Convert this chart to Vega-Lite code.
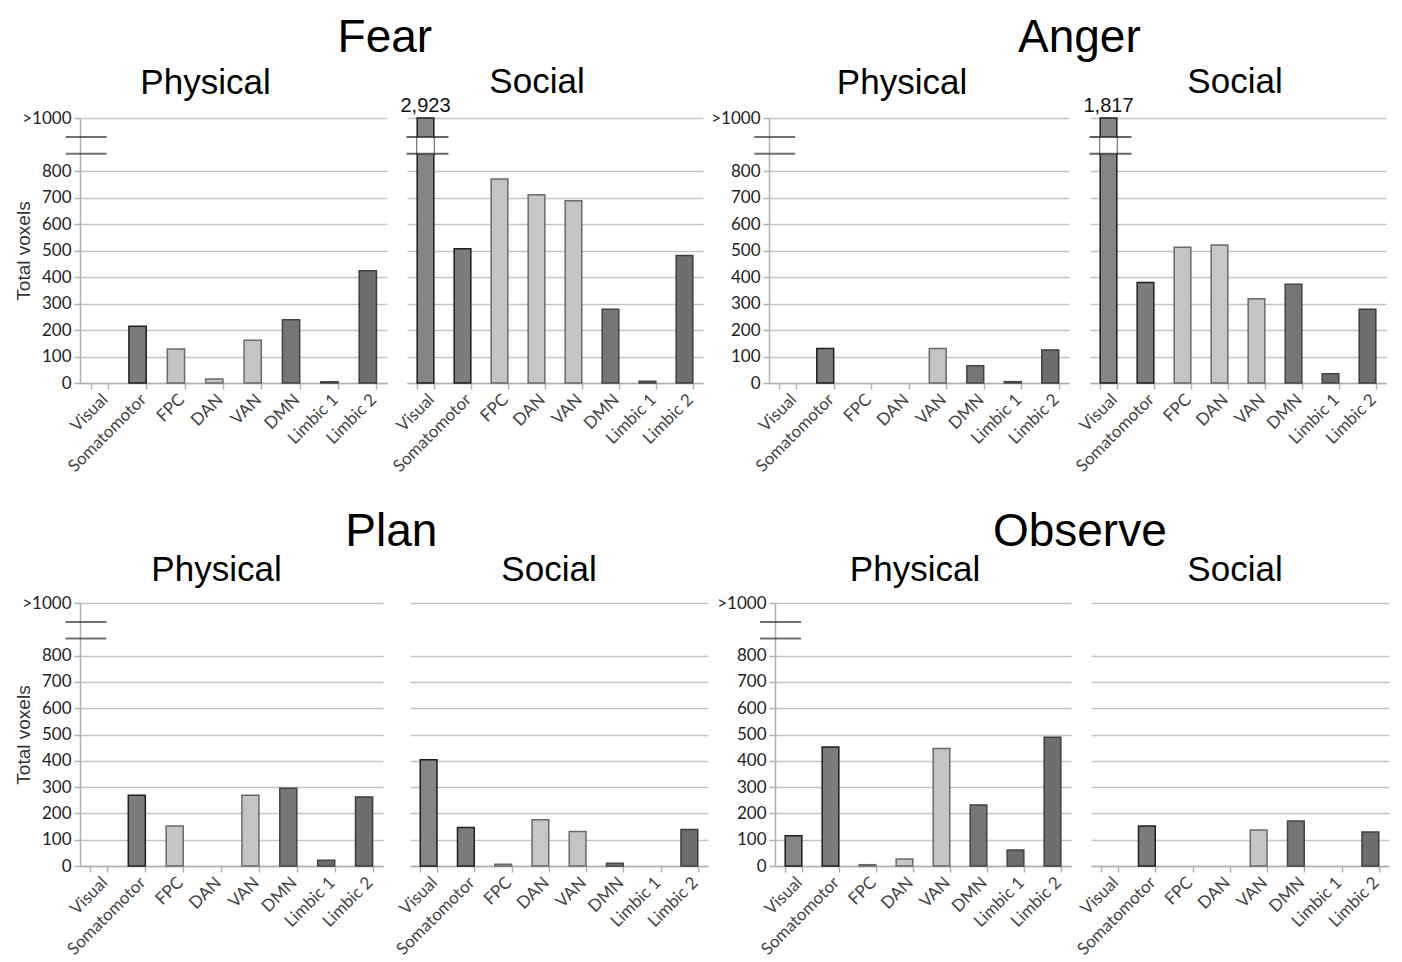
{
  "$schema": "https://vega.github.io/schema/vega-lite/v6.json",
  "background": "white",
  "padding": {"left": 14, "top": 15, "right": 5, "bottom": 0},
  "datasets": {
    "voxels": [
      {"emotion": "Fear", "context": "Physical", "network": "Visual", "voxels": 0},
      {"emotion": "Fear", "context": "Physical", "network": "Somatomotor", "voxels": 214},
      {"emotion": "Fear", "context": "Physical", "network": "FPC", "voxels": 128},
      {"emotion": "Fear", "context": "Physical", "network": "DAN", "voxels": 15},
      {"emotion": "Fear", "context": "Physical", "network": "VAN", "voxels": 161},
      {"emotion": "Fear", "context": "Physical", "network": "DMN", "voxels": 239},
      {"emotion": "Fear", "context": "Physical", "network": "Limbic 1", "voxels": 5},
      {"emotion": "Fear", "context": "Physical", "network": "Limbic 2", "voxels": 424},
      {"emotion": "Fear", "context": "Social", "network": "Visual", "voxels": 2923},
      {"emotion": "Fear", "context": "Social", "network": "Somatomotor", "voxels": 507},
      {"emotion": "Fear", "context": "Social", "network": "FPC", "voxels": 770},
      {"emotion": "Fear", "context": "Social", "network": "DAN", "voxels": 710},
      {"emotion": "Fear", "context": "Social", "network": "VAN", "voxels": 688},
      {"emotion": "Fear", "context": "Social", "network": "DMN", "voxels": 278},
      {"emotion": "Fear", "context": "Social", "network": "Limbic 1", "voxels": 7},
      {"emotion": "Fear", "context": "Social", "network": "Limbic 2", "voxels": 481},
      {"emotion": "Anger", "context": "Physical", "network": "Visual", "voxels": 0},
      {"emotion": "Anger", "context": "Physical", "network": "Somatomotor", "voxels": 130},
      {"emotion": "Anger", "context": "Physical", "network": "FPC", "voxels": 0},
      {"emotion": "Anger", "context": "Physical", "network": "DAN", "voxels": 0},
      {"emotion": "Anger", "context": "Physical", "network": "VAN", "voxels": 130},
      {"emotion": "Anger", "context": "Physical", "network": "DMN", "voxels": 65},
      {"emotion": "Anger", "context": "Physical", "network": "Limbic 1", "voxels": 5},
      {"emotion": "Anger", "context": "Physical", "network": "Limbic 2", "voxels": 125},
      {"emotion": "Anger", "context": "Social", "network": "Visual", "voxels": 1817},
      {"emotion": "Anger", "context": "Social", "network": "Somatomotor", "voxels": 379},
      {"emotion": "Anger", "context": "Social", "network": "FPC", "voxels": 512},
      {"emotion": "Anger", "context": "Social", "network": "DAN", "voxels": 521},
      {"emotion": "Anger", "context": "Social", "network": "VAN", "voxels": 318},
      {"emotion": "Anger", "context": "Social", "network": "DMN", "voxels": 373},
      {"emotion": "Anger", "context": "Social", "network": "Limbic 1", "voxels": 35},
      {"emotion": "Anger", "context": "Social", "network": "Limbic 2", "voxels": 278},
      {"emotion": "Plan", "context": "Physical", "network": "Visual", "voxels": 0},
      {"emotion": "Plan", "context": "Physical", "network": "Somatomotor", "voxels": 269},
      {"emotion": "Plan", "context": "Physical", "network": "FPC", "voxels": 152},
      {"emotion": "Plan", "context": "Physical", "network": "DAN", "voxels": 0},
      {"emotion": "Plan", "context": "Physical", "network": "VAN", "voxels": 269},
      {"emotion": "Plan", "context": "Physical", "network": "DMN", "voxels": 296},
      {"emotion": "Plan", "context": "Physical", "network": "Limbic 1", "voxels": 22},
      {"emotion": "Plan", "context": "Physical", "network": "Limbic 2", "voxels": 262},
      {"emotion": "Plan", "context": "Social", "network": "Visual", "voxels": 404},
      {"emotion": "Plan", "context": "Social", "network": "Somatomotor", "voxels": 146},
      {"emotion": "Plan", "context": "Social", "network": "FPC", "voxels": 7},
      {"emotion": "Plan", "context": "Social", "network": "DAN", "voxels": 176},
      {"emotion": "Plan", "context": "Social", "network": "VAN", "voxels": 131},
      {"emotion": "Plan", "context": "Social", "network": "DMN", "voxels": 10},
      {"emotion": "Plan", "context": "Social", "network": "Limbic 1", "voxels": 0},
      {"emotion": "Plan", "context": "Social", "network": "Limbic 2", "voxels": 139},
      {"emotion": "Observe", "context": "Physical", "network": "Visual", "voxels": 115},
      {"emotion": "Observe", "context": "Physical", "network": "Somatomotor", "voxels": 452},
      {"emotion": "Observe", "context": "Physical", "network": "FPC", "voxels": 5},
      {"emotion": "Observe", "context": "Physical", "network": "DAN", "voxels": 27},
      {"emotion": "Observe", "context": "Physical", "network": "VAN", "voxels": 447},
      {"emotion": "Observe", "context": "Physical", "network": "DMN", "voxels": 232},
      {"emotion": "Observe", "context": "Physical", "network": "Limbic 1", "voxels": 61},
      {"emotion": "Observe", "context": "Physical", "network": "Limbic 2", "voxels": 490},
      {"emotion": "Observe", "context": "Social", "network": "Visual", "voxels": 0},
      {"emotion": "Observe", "context": "Social", "network": "Somatomotor", "voxels": 152},
      {"emotion": "Observe", "context": "Social", "network": "FPC", "voxels": 0},
      {"emotion": "Observe", "context": "Social", "network": "DAN", "voxels": 0},
      {"emotion": "Observe", "context": "Social", "network": "VAN", "voxels": 137},
      {"emotion": "Observe", "context": "Social", "network": "DMN", "voxels": 171},
      {"emotion": "Observe", "context": "Social", "network": "Limbic 1", "voxels": 0},
      {"emotion": "Observe", "context": "Social", "network": "Limbic 2", "voxels": 129}
    ]
  },
  "data": {"name": "voxels"},
  "spacing": 34,
  "vconcat": [
    {
      "spacing": 7,
      "hconcat": [
        {
          "title": {"text": "Fear", "fontSize": 46, "anchor": "middle", "dx": 26, "offset": 3},
          "bounds": "flush",
          "spacing": 20,
          "hconcat": [
            {
              "width": 307, "height": 265,
              "title": {"text": "Physical", "fontSize": 35, "offset": 8, "frame": "group", "dx": -28},
              "transform": [{"filter": "datum.emotion == 'Fear' && datum.context == 'Physical'"}],
              "layer": [
                {
                  "transform": [{"filter": "datum.voxels > 0"}],
                  "mark": {"type": "bar", "strokeWidth": 1.5},
                  "encoding": {
                    "x": {"field": "network", "type": "nominal", "scale": {"domain": ["Visual", "Somatomotor", "FPC", "DAN", "VAN", "DMN", "Limbic 1", "Limbic 2"], "paddingInner": 0.55, "paddingOuter": 0.275},
                      "axis": {"title": null, "labelAngle": -45, "tickBand": "extent", "labelFontSize": 17, "labelColor": "#444", "tickSize": 6, "labelPadding": 2}},
                    "y": {"field": "voxels", "type": "quantitative", "scale": {"domain": [0, 1000], "clamp": true, "nice": false},
                      "axis": {"values": [0, 100, 200, 300, 400, 500, 600, 700, 800, 1000], "labelOverlap": false, "labelExpr": "datum.value == 1000 ? '>1000' : datum.label", "title": "Total voxels", "titleFontSize": 19, "titleFontWeight": "normal", "titleColor": "#333", "titlePadding": -12, "labelFontSize": 17, "labelColor": "#222", "tickSize": 6, "labelPadding": 3}},
                    "fill": {"field": "network", "type": "nominal", "legend": null,
                      "scale": {"domain": ["Visual", "Somatomotor", "FPC", "DAN", "VAN", "DMN", "Limbic 1", "Limbic 2"], "range": ["#858585", "#7c7c7c", "#c4c4c4", "#c6c6c6", "#c4c4c4", "#767676", "#6c6c6c", "#6e6e6e"]}},
                    "stroke": {"field": "network", "type": "nominal", "legend": null,
                      "scale": {"domain": ["Visual", "Somatomotor", "FPC", "DAN", "VAN", "DMN", "Limbic 1", "Limbic 2"], "range": ["#1e1e1e", "#1e1e1e", "#6a6a6a", "#6a6a6a", "#6a6a6a", "#444444", "#444444", "#3c3c3c"]}}
                  }
                },
                {
                  "transform": [{"filter": "datum.network == 'Visual'"}],
                  "mark": {"type": "tick", "color": "#333", "thickness": 2, "xOffset": -13},
                  "encoding": {"x": {"field": "network", "type": "nominal"},
                    "y": {"datum": 928, "type": "quantitative", "axis": {"values": [0, 100, 200, 300, 400, 500, 600, 700, 800, 1000], "labelOverlap": false, "labelExpr": "datum.value == 1000 ? '>1000' : datum.label", "title": "Total voxels", "titleFontSize": 19, "titleFontWeight": "normal", "titleColor": "#333", "titlePadding": -12, "labelFontSize": 17, "labelColor": "#222", "tickSize": 6, "labelPadding": 3}},
                    "size": {"value": 41}}
                },
                {
                  "transform": [{"filter": "datum.network == 'Visual'"}],
                  "mark": {"type": "tick", "color": "#333", "thickness": 2, "xOffset": -13},
                  "encoding": {"x": {"field": "network", "type": "nominal"},
                    "y": {"datum": 865, "type": "quantitative", "axis": {"values": [0, 100, 200, 300, 400, 500, 600, 700, 800, 1000], "labelOverlap": false, "labelExpr": "datum.value == 1000 ? '>1000' : datum.label", "title": "Total voxels", "titleFontSize": 19, "titleFontWeight": "normal", "titleColor": "#333", "titlePadding": -12, "labelFontSize": 17, "labelColor": "#222", "tickSize": 6, "labelPadding": 3}},
                    "size": {"value": 41}}
                }
              ]
            },
            {
              "width": 296, "height": 265,
              "title": {"text": "Social", "fontSize": 35, "offset": -4, "frame": "group", "dx": -18},
              "transform": [{"filter": "datum.emotion == 'Fear' && datum.context == 'Social'"}],
              "layer": [
                {
                  "transform": [{"filter": "datum.voxels > 0"}],
                  "mark": {"type": "bar", "strokeWidth": 1.5},
                  "encoding": {
                    "x": {"field": "network", "type": "nominal", "scale": {"domain": ["Visual", "Somatomotor", "FPC", "DAN", "VAN", "DMN", "Limbic 1", "Limbic 2"], "paddingInner": 0.55, "paddingOuter": 0.275},
                      "axis": {"title": null, "labelAngle": -45, "tickBand": "extent", "labelFontSize": 17, "labelColor": "#444", "tickSize": 6, "labelPadding": 2}},
                    "y": {"field": "voxels", "type": "quantitative", "scale": {"domain": [0, 1000], "clamp": true, "nice": false},
                      "axis": {"values": [0, 100, 200, 300, 400, 500, 600, 700, 800, 1000], "labelOverlap": false, "labelOpacity": 0, "tickOpacity": 0, "domainOpacity": 0, "title": null, "labelFontSize": 17, "tickSize": 6}},
                    "fill": {"field": "network", "type": "nominal", "legend": null,
                      "scale": {"domain": ["Visual", "Somatomotor", "FPC", "DAN", "VAN", "DMN", "Limbic 1", "Limbic 2"], "range": ["#858585", "#7c7c7c", "#c4c4c4", "#c6c6c6", "#c4c4c4", "#767676", "#6c6c6c", "#6e6e6e"]}},
                    "stroke": {"field": "network", "type": "nominal", "legend": null,
                      "scale": {"domain": ["Visual", "Somatomotor", "FPC", "DAN", "VAN", "DMN", "Limbic 1", "Limbic 2"], "range": ["#1e1e1e", "#1e1e1e", "#6a6a6a", "#6a6a6a", "#6a6a6a", "#444444", "#444444", "#3c3c3c"]}}
                  }
                },
                {
                  "transform": [{"filter": "datum.network == 'Visual' && datum.voxels > 1000"}],
                  "mark": {"type": "bar", "fill": "white", "stroke": null},
                  "encoding": {"x": {"field": "network", "type": "nominal"},
                    "y": {"datum": 865, "type": "quantitative", "axis": {"values": [0, 100, 200, 300, 400, 500, 600, 700, 800, 1000], "labelOverlap": false, "labelOpacity": 0, "tickOpacity": 0, "domainOpacity": 0, "title": null, "labelFontSize": 17, "tickSize": 6}},
                    "y2": {"datum": 928}}
                },
                {
                  "transform": [{"filter": "datum.network == 'Visual' && datum.voxels > 1000"}],
                  "mark": {"type": "tick", "color": "#222", "thickness": 2, "xOffset": 2},
                  "encoding": {"x": {"field": "network", "type": "nominal"},
                    "y": {"datum": 928, "type": "quantitative", "axis": {"values": [0, 100, 200, 300, 400, 500, 600, 700, 800, 1000], "labelOverlap": false, "labelOpacity": 0, "tickOpacity": 0, "domainOpacity": 0, "title": null, "labelFontSize": 17, "tickSize": 6}},
                    "size": {"value": 42}}
                },
                {
                  "transform": [{"filter": "datum.network == 'Visual' && datum.voxels > 1000"}],
                  "mark": {"type": "tick", "color": "#222", "thickness": 2, "xOffset": 2},
                  "encoding": {"x": {"field": "network", "type": "nominal"},
                    "y": {"datum": 865, "type": "quantitative", "axis": {"values": [0, 100, 200, 300, 400, 500, 600, 700, 800, 1000], "labelOverlap": false, "labelOpacity": 0, "tickOpacity": 0, "domainOpacity": 0, "title": null, "labelFontSize": 17, "tickSize": 6}},
                    "size": {"value": 42}}
                },
                {
                  "transform": [{"filter": "datum.voxels > 1000"}],
                  "mark": {"type": "text", "baseline": "bottom", "dy": -2, "fontSize": 20, "color": "#111"},
                  "encoding": {"x": {"field": "network", "type": "nominal"},
                    "y": {"field": "voxels", "type": "quantitative", "axis": {"values": [0, 100, 200, 300, 400, 500, 600, 700, 800, 1000], "labelOverlap": false, "labelOpacity": 0, "tickOpacity": 0, "domainOpacity": 0, "title": null, "labelFontSize": 17, "tickSize": 6}},
                    "text": {"field": "voxels", "type": "quantitative", "format": ","}}
                }
              ]
            }
          ]
        },
        {
          "title": {"text": "Anger", "fontSize": 46, "anchor": "middle", "dx": 31, "offset": 3},
          "bounds": "flush",
          "spacing": 21,
          "hconcat": [
            {
              "width": 300, "height": 265,
              "title": {"text": "Physical", "fontSize": 35, "offset": 8, "frame": "group", "dx": -17},
              "transform": [{"filter": "datum.emotion == 'Anger' && datum.context == 'Physical'"}],
              "layer": [
                {
                  "transform": [{"filter": "datum.voxels > 0"}],
                  "mark": {"type": "bar", "strokeWidth": 1.5},
                  "encoding": {
                    "x": {"field": "network", "type": "nominal", "scale": {"domain": ["Visual", "Somatomotor", "FPC", "DAN", "VAN", "DMN", "Limbic 1", "Limbic 2"], "paddingInner": 0.55, "paddingOuter": 0.275},
                      "axis": {"title": null, "labelAngle": -45, "tickBand": "extent", "labelFontSize": 17, "labelColor": "#444", "tickSize": 6, "labelPadding": 2}},
                    "y": {"field": "voxels", "type": "quantitative", "scale": {"domain": [0, 1000], "clamp": true, "nice": false},
                      "axis": {"values": [0, 100, 200, 300, 400, 500, 600, 700, 800, 1000], "labelOverlap": false, "labelExpr": "datum.value == 1000 ? '>1000' : datum.label", "title": null, "labelFontSize": 17, "labelColor": "#222", "tickSize": 6, "labelPadding": 3}},
                    "fill": {"field": "network", "type": "nominal", "legend": null,
                      "scale": {"domain": ["Visual", "Somatomotor", "FPC", "DAN", "VAN", "DMN", "Limbic 1", "Limbic 2"], "range": ["#858585", "#7c7c7c", "#c4c4c4", "#c6c6c6", "#c4c4c4", "#767676", "#6c6c6c", "#6e6e6e"]}},
                    "stroke": {"field": "network", "type": "nominal", "legend": null,
                      "scale": {"domain": ["Visual", "Somatomotor", "FPC", "DAN", "VAN", "DMN", "Limbic 1", "Limbic 2"], "range": ["#1e1e1e", "#1e1e1e", "#6a6a6a", "#6a6a6a", "#6a6a6a", "#444444", "#444444", "#3c3c3c"]}}
                  }
                },
                {
                  "transform": [{"filter": "datum.network == 'Visual'"}],
                  "mark": {"type": "tick", "color": "#333", "thickness": 2, "xOffset": -13},
                  "encoding": {"x": {"field": "network", "type": "nominal"},
                    "y": {"datum": 928, "type": "quantitative", "axis": {"values": [0, 100, 200, 300, 400, 500, 600, 700, 800, 1000], "labelOverlap": false, "labelExpr": "datum.value == 1000 ? '>1000' : datum.label", "title": null, "labelFontSize": 17, "labelColor": "#222", "tickSize": 6, "labelPadding": 3}},
                    "size": {"value": 41}}
                },
                {
                  "transform": [{"filter": "datum.network == 'Visual'"}],
                  "mark": {"type": "tick", "color": "#333", "thickness": 2, "xOffset": -13},
                  "encoding": {"x": {"field": "network", "type": "nominal"},
                    "y": {"datum": 865, "type": "quantitative", "axis": {"values": [0, 100, 200, 300, 400, 500, 600, 700, 800, 1000], "labelOverlap": false, "labelExpr": "datum.value == 1000 ? '>1000' : datum.label", "title": null, "labelFontSize": 17, "labelColor": "#222", "tickSize": 6, "labelPadding": 3}},
                    "size": {"value": 41}}
                }
              ]
            },
            {
              "width": 296, "height": 265,
              "title": {"text": "Social", "fontSize": 35, "offset": -4, "frame": "group", "dx": -3},
              "transform": [{"filter": "datum.emotion == 'Anger' && datum.context == 'Social'"}],
              "layer": [
                {
                  "transform": [{"filter": "datum.voxels > 0"}],
                  "mark": {"type": "bar", "strokeWidth": 1.5},
                  "encoding": {
                    "x": {"field": "network", "type": "nominal", "scale": {"domain": ["Visual", "Somatomotor", "FPC", "DAN", "VAN", "DMN", "Limbic 1", "Limbic 2"], "paddingInner": 0.55, "paddingOuter": 0.275},
                      "axis": {"title": null, "labelAngle": -45, "tickBand": "extent", "labelFontSize": 17, "labelColor": "#444", "tickSize": 6, "labelPadding": 2}},
                    "y": {"field": "voxels", "type": "quantitative", "scale": {"domain": [0, 1000], "clamp": true, "nice": false},
                      "axis": {"values": [0, 100, 200, 300, 400, 500, 600, 700, 800, 1000], "labelOverlap": false, "labelOpacity": 0, "tickOpacity": 0, "domainOpacity": 0, "title": null, "labelFontSize": 17, "tickSize": 6}},
                    "fill": {"field": "network", "type": "nominal", "legend": null,
                      "scale": {"domain": ["Visual", "Somatomotor", "FPC", "DAN", "VAN", "DMN", "Limbic 1", "Limbic 2"], "range": ["#858585", "#7c7c7c", "#c4c4c4", "#c6c6c6", "#c4c4c4", "#767676", "#6c6c6c", "#6e6e6e"]}},
                    "stroke": {"field": "network", "type": "nominal", "legend": null,
                      "scale": {"domain": ["Visual", "Somatomotor", "FPC", "DAN", "VAN", "DMN", "Limbic 1", "Limbic 2"], "range": ["#1e1e1e", "#1e1e1e", "#6a6a6a", "#6a6a6a", "#6a6a6a", "#444444", "#444444", "#3c3c3c"]}}
                  }
                },
                {
                  "transform": [{"filter": "datum.network == 'Visual' && datum.voxels > 1000"}],
                  "mark": {"type": "bar", "fill": "white", "stroke": null},
                  "encoding": {"x": {"field": "network", "type": "nominal"},
                    "y": {"datum": 865, "type": "quantitative", "axis": {"values": [0, 100, 200, 300, 400, 500, 600, 700, 800, 1000], "labelOverlap": false, "labelOpacity": 0, "tickOpacity": 0, "domainOpacity": 0, "title": null, "labelFontSize": 17, "tickSize": 6}},
                    "y2": {"datum": 928}}
                },
                {
                  "transform": [{"filter": "datum.network == 'Visual' && datum.voxels > 1000"}],
                  "mark": {"type": "tick", "color": "#222", "thickness": 2, "xOffset": 2},
                  "encoding": {"x": {"field": "network", "type": "nominal"},
                    "y": {"datum": 928, "type": "quantitative", "axis": {"values": [0, 100, 200, 300, 400, 500, 600, 700, 800, 1000], "labelOverlap": false, "labelOpacity": 0, "tickOpacity": 0, "domainOpacity": 0, "title": null, "labelFontSize": 17, "tickSize": 6}},
                    "size": {"value": 42}}
                },
                {
                  "transform": [{"filter": "datum.network == 'Visual' && datum.voxels > 1000"}],
                  "mark": {"type": "tick", "color": "#222", "thickness": 2, "xOffset": 2},
                  "encoding": {"x": {"field": "network", "type": "nominal"},
                    "y": {"datum": 865, "type": "quantitative", "axis": {"values": [0, 100, 200, 300, 400, 500, 600, 700, 800, 1000], "labelOverlap": false, "labelOpacity": 0, "tickOpacity": 0, "domainOpacity": 0, "title": null, "labelFontSize": 17, "tickSize": 6}},
                    "size": {"value": 42}}
                },
                {
                  "transform": [{"filter": "datum.voxels > 1000"}],
                  "mark": {"type": "text", "baseline": "bottom", "dy": -2, "fontSize": 20, "color": "#111"},
                  "encoding": {"x": {"field": "network", "type": "nominal"},
                    "y": {"field": "voxels", "type": "quantitative", "axis": {"values": [0, 100, 200, 300, 400, 500, 600, 700, 800, 1000], "labelOverlap": false, "labelOpacity": 0, "tickOpacity": 0, "domainOpacity": 0, "title": null, "labelFontSize": 17, "tickSize": 6}},
                    "text": {"field": "voxels", "type": "quantitative", "format": ","}}
                }
              ]
            }
          ]
        }
      ]
    },
    {
      "spacing": 8,
      "hconcat": [
        {
          "title": {"text": "Plan", "fontSize": 46, "anchor": "middle", "dx": 30, "offset": -3},
          "bounds": "flush",
          "spacing": 27,
          "hconcat": [
            {
              "width": 303, "height": 263,
              "title": {"text": "Physical", "fontSize": 35, "offset": 6, "frame": "group", "dx": -15},
              "transform": [{"filter": "datum.emotion == 'Plan' && datum.context == 'Physical'"}],
              "layer": [
                {
                  "transform": [{"filter": "datum.voxels > 0"}],
                  "mark": {"type": "bar", "strokeWidth": 1.5},
                  "encoding": {
                    "x": {"field": "network", "type": "nominal", "scale": {"domain": ["Visual", "Somatomotor", "FPC", "DAN", "VAN", "DMN", "Limbic 1", "Limbic 2"], "paddingInner": 0.55, "paddingOuter": 0.275},
                      "axis": {"title": null, "labelAngle": -45, "tickBand": "extent", "labelFontSize": 17, "labelColor": "#444", "tickSize": 6, "labelPadding": 2}},
                    "y": {"field": "voxels", "type": "quantitative", "scale": {"domain": [0, 1000], "clamp": true, "nice": false},
                      "axis": {"values": [0, 100, 200, 300, 400, 500, 600, 700, 800, 1000], "labelOverlap": false, "labelExpr": "datum.value == 1000 ? '>1000' : datum.label", "title": "Total voxels", "titleFontSize": 19, "titleFontWeight": "normal", "titleColor": "#333", "titlePadding": -12, "labelFontSize": 17, "labelColor": "#222", "tickSize": 6, "labelPadding": 3}},
                    "fill": {"field": "network", "type": "nominal", "legend": null,
                      "scale": {"domain": ["Visual", "Somatomotor", "FPC", "DAN", "VAN", "DMN", "Limbic 1", "Limbic 2"], "range": ["#858585", "#7c7c7c", "#c4c4c4", "#c6c6c6", "#c4c4c4", "#767676", "#6c6c6c", "#6e6e6e"]}},
                    "stroke": {"field": "network", "type": "nominal", "legend": null,
                      "scale": {"domain": ["Visual", "Somatomotor", "FPC", "DAN", "VAN", "DMN", "Limbic 1", "Limbic 2"], "range": ["#1e1e1e", "#1e1e1e", "#6a6a6a", "#6a6a6a", "#6a6a6a", "#444444", "#444444", "#3c3c3c"]}}
                  }
                },
                {
                  "transform": [{"filter": "datum.network == 'Visual'"}],
                  "mark": {"type": "tick", "color": "#333", "thickness": 2, "xOffset": -13},
                  "encoding": {"x": {"field": "network", "type": "nominal"},
                    "y": {"datum": 928, "type": "quantitative", "axis": {"values": [0, 100, 200, 300, 400, 500, 600, 700, 800, 1000], "labelOverlap": false, "labelExpr": "datum.value == 1000 ? '>1000' : datum.label", "title": "Total voxels", "titleFontSize": 19, "titleFontWeight": "normal", "titleColor": "#333", "titlePadding": -12, "labelFontSize": 17, "labelColor": "#222", "tickSize": 6, "labelPadding": 3}},
                    "size": {"value": 41}}
                },
                {
                  "transform": [{"filter": "datum.network == 'Visual'"}],
                  "mark": {"type": "tick", "color": "#333", "thickness": 2, "xOffset": -13},
                  "encoding": {"x": {"field": "network", "type": "nominal"},
                    "y": {"datum": 865, "type": "quantitative", "axis": {"values": [0, 100, 200, 300, 400, 500, 600, 700, 800, 1000], "labelOverlap": false, "labelExpr": "datum.value == 1000 ? '>1000' : datum.label", "title": "Total voxels", "titleFontSize": 19, "titleFontWeight": "normal", "titleColor": "#333", "titlePadding": -12, "labelFontSize": 17, "labelColor": "#222", "tickSize": 6, "labelPadding": 3}},
                    "size": {"value": 41}}
                }
              ]
            },
            {
              "width": 298, "height": 263,
              "title": {"text": "Social", "fontSize": 35, "offset": 6, "frame": "group", "dx": -10},
              "transform": [{"filter": "datum.emotion == 'Plan' && datum.context == 'Social'"}],
              "layer": [
                {
                  "transform": [{"filter": "datum.voxels > 0"}],
                  "mark": {"type": "bar", "strokeWidth": 1.5},
                  "encoding": {
                    "x": {"field": "network", "type": "nominal", "scale": {"domain": ["Visual", "Somatomotor", "FPC", "DAN", "VAN", "DMN", "Limbic 1", "Limbic 2"], "paddingInner": 0.55, "paddingOuter": 0.275},
                      "axis": {"title": null, "labelAngle": -45, "tickBand": "extent", "labelFontSize": 17, "labelColor": "#444", "tickSize": 6, "labelPadding": 2}},
                    "y": {"field": "voxels", "type": "quantitative", "scale": {"domain": [0, 1000], "clamp": true, "nice": false},
                      "axis": {"values": [0, 100, 200, 300, 400, 500, 600, 700, 800, 1000], "labelOverlap": false, "labelOpacity": 0, "tickOpacity": 0, "domainOpacity": 0, "title": null, "labelFontSize": 17, "tickSize": 6}},
                    "fill": {"field": "network", "type": "nominal", "legend": null,
                      "scale": {"domain": ["Visual", "Somatomotor", "FPC", "DAN", "VAN", "DMN", "Limbic 1", "Limbic 2"], "range": ["#858585", "#7c7c7c", "#c4c4c4", "#c6c6c6", "#c4c4c4", "#767676", "#6c6c6c", "#6e6e6e"]}},
                    "stroke": {"field": "network", "type": "nominal", "legend": null,
                      "scale": {"domain": ["Visual", "Somatomotor", "FPC", "DAN", "VAN", "DMN", "Limbic 1", "Limbic 2"], "range": ["#1e1e1e", "#1e1e1e", "#6a6a6a", "#6a6a6a", "#6a6a6a", "#444444", "#444444", "#3c3c3c"]}}
                  }
                }
              ]
            }
          ]
        },
        {
          "title": {"text": "Observe", "fontSize": 46, "anchor": "middle", "dx": 27, "offset": -3},
          "bounds": "flush",
          "spacing": 20,
          "hconcat": [
            {
              "width": 296, "height": 263,
              "title": {"text": "Physical", "fontSize": 35, "offset": 6, "frame": "group", "dx": -8},
              "transform": [{"filter": "datum.emotion == 'Observe' && datum.context == 'Physical'"}],
              "layer": [
                {
                  "transform": [{"filter": "datum.voxels > 0"}],
                  "mark": {"type": "bar", "strokeWidth": 1.5},
                  "encoding": {
                    "x": {"field": "network", "type": "nominal", "scale": {"domain": ["Visual", "Somatomotor", "FPC", "DAN", "VAN", "DMN", "Limbic 1", "Limbic 2"], "paddingInner": 0.55, "paddingOuter": 0.275},
                      "axis": {"title": null, "labelAngle": -45, "tickBand": "extent", "labelFontSize": 17, "labelColor": "#444", "tickSize": 6, "labelPadding": 2}},
                    "y": {"field": "voxels", "type": "quantitative", "scale": {"domain": [0, 1000], "clamp": true, "nice": false},
                      "axis": {"values": [0, 100, 200, 300, 400, 500, 600, 700, 800, 1000], "labelOverlap": false, "labelExpr": "datum.value == 1000 ? '>1000' : datum.label", "title": null, "labelFontSize": 17, "labelColor": "#222", "tickSize": 6, "labelPadding": 3}},
                    "fill": {"field": "network", "type": "nominal", "legend": null,
                      "scale": {"domain": ["Visual", "Somatomotor", "FPC", "DAN", "VAN", "DMN", "Limbic 1", "Limbic 2"], "range": ["#858585", "#7c7c7c", "#c4c4c4", "#c6c6c6", "#c4c4c4", "#767676", "#6c6c6c", "#6e6e6e"]}},
                    "stroke": {"field": "network", "type": "nominal", "legend": null,
                      "scale": {"domain": ["Visual", "Somatomotor", "FPC", "DAN", "VAN", "DMN", "Limbic 1", "Limbic 2"], "range": ["#1e1e1e", "#1e1e1e", "#6a6a6a", "#6a6a6a", "#6a6a6a", "#444444", "#444444", "#3c3c3c"]}}
                  }
                },
                {
                  "transform": [{"filter": "datum.network == 'Visual'"}],
                  "mark": {"type": "tick", "color": "#333", "thickness": 2, "xOffset": -13},
                  "encoding": {"x": {"field": "network", "type": "nominal"},
                    "y": {"datum": 928, "type": "quantitative", "axis": {"values": [0, 100, 200, 300, 400, 500, 600, 700, 800, 1000], "labelOverlap": false, "labelExpr": "datum.value == 1000 ? '>1000' : datum.label", "title": null, "labelFontSize": 17, "labelColor": "#222", "tickSize": 6, "labelPadding": 3}},
                    "size": {"value": 41}}
                },
                {
                  "transform": [{"filter": "datum.network == 'Visual'"}],
                  "mark": {"type": "tick", "color": "#333", "thickness": 2, "xOffset": -13},
                  "encoding": {"x": {"field": "network", "type": "nominal"},
                    "y": {"datum": 865, "type": "quantitative", "axis": {"values": [0, 100, 200, 300, 400, 500, 600, 700, 800, 1000], "labelOverlap": false, "labelExpr": "datum.value == 1000 ? '>1000' : datum.label", "title": null, "labelFontSize": 17, "labelColor": "#222", "tickSize": 6, "labelPadding": 3}},
                    "size": {"value": 41}}
                }
              ]
            },
            {
              "width": 298, "height": 263,
              "title": {"text": "Social", "fontSize": 35, "offset": 6, "frame": "group", "dx": -5},
              "transform": [{"filter": "datum.emotion == 'Observe' && datum.context == 'Social'"}],
              "layer": [
                {
                  "transform": [{"filter": "datum.voxels > 0"}],
                  "mark": {"type": "bar", "strokeWidth": 1.5},
                  "encoding": {
                    "x": {"field": "network", "type": "nominal", "scale": {"domain": ["Visual", "Somatomotor", "FPC", "DAN", "VAN", "DMN", "Limbic 1", "Limbic 2"], "paddingInner": 0.55, "paddingOuter": 0.275},
                      "axis": {"title": null, "labelAngle": -45, "tickBand": "extent", "labelFontSize": 17, "labelColor": "#444", "tickSize": 6, "labelPadding": 2}},
                    "y": {"field": "voxels", "type": "quantitative", "scale": {"domain": [0, 1000], "clamp": true, "nice": false},
                      "axis": {"values": [0, 100, 200, 300, 400, 500, 600, 700, 800, 1000], "labelOverlap": false, "labelOpacity": 0, "tickOpacity": 0, "domainOpacity": 0, "title": null, "labelFontSize": 17, "tickSize": 6}},
                    "fill": {"field": "network", "type": "nominal", "legend": null,
                      "scale": {"domain": ["Visual", "Somatomotor", "FPC", "DAN", "VAN", "DMN", "Limbic 1", "Limbic 2"], "range": ["#858585", "#7c7c7c", "#c4c4c4", "#c6c6c6", "#c4c4c4", "#767676", "#6c6c6c", "#6e6e6e"]}},
                    "stroke": {"field": "network", "type": "nominal", "legend": null,
                      "scale": {"domain": ["Visual", "Somatomotor", "FPC", "DAN", "VAN", "DMN", "Limbic 1", "Limbic 2"], "range": ["#1e1e1e", "#1e1e1e", "#6a6a6a", "#6a6a6a", "#6a6a6a", "#444444", "#444444", "#3c3c3c"]}}
                  }
                }
              ]
            }
          ]
        }
      ]
    }
  ],
  "config": {
    "font": "Liberation Sans",
    "view": {"stroke": null},
    "axis": {"labelFont": "Lato", "titleFont": "Liberation Sans", "gridColor": "#c4c4c4", "gridWidth": 1.5, "domainColor": "#b0b0b0", "tickColor": "#b0b0b0", "domainWidth": 1.5, "tickWidth": 1.5},
    "title": {"fontWeight": "normal", "color": "#000", "font": "Liberation Sans"}
  }
}
